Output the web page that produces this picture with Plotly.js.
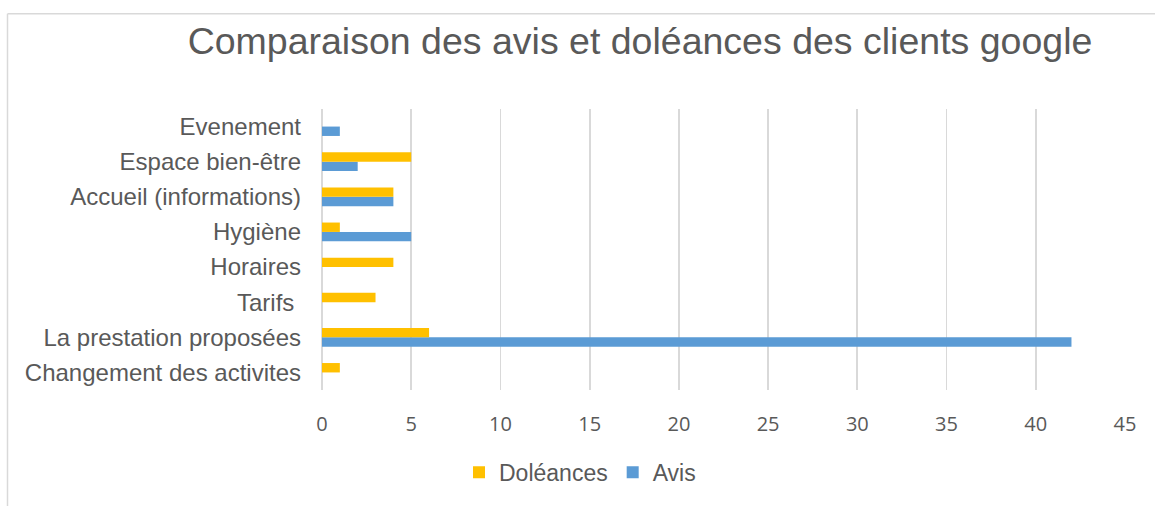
<!DOCTYPE html>
<html>
<head>
<meta charset="utf-8">
<script src="https://cdn.plot.ly/plotly-3.0.1.min.js"></script>
<style>
html,body{margin:0;padding:0;background:#fff;}
#chart{width:1155px;height:506px;}
</style>
</head>
<body>
<div id="chart"></div>
<script>
const categories = ["Changement des activites", "La prestation proposées", "Tarifs ", "Horaires", "Hygiène", "Accueil (informations)", "Espace bien-être", "Evenement"];
const doleances = [1, 6, 3, 4, 1, 4, 5, 0];
const avis = [0, 42, 0, 0, 5, 4, 2, 1];
const xTicks = [0, 5, 10, 15, 20, 25, 30, 35, 40, 45];

const W = 1155, H = 506;
const L = 322, R = 1125, T = 108.75, B = 392.75;
const pw = R - L, ph = B - T;
const px = v => (v - L) / pw;
const py = v => (B - v) / ph;

const traces = [
  {type: 'bar', orientation: 'h', name: 'Avis', y: categories, x: avis,
   marker: {color: '#5B9BD5'}, hoverinfo: 'x+y'},
  {type: 'bar', orientation: 'h', name: 'Doléances', y: categories, x: doleances,
   marker: {color: '#FFC000'}, hoverinfo: 'x+y'}
];

const layout = {
  width: W, height: H,
  margin: {l: L, r: W - R, t: T, b: H - B, pad: 0},
  paper_bgcolor: '#ffffff', plot_bgcolor: '#ffffff',
  font: {family: 'Liberation Sans, Arial, sans-serif', color: '#595959'},
  title: {text: 'Comparaison des avis et doléances des clients google',
          font: {family: 'Liberation Sans, Arial, sans-serif', size: 37.5, color: '#595959'},
          xref: 'container', yref: 'container', x: 640 / W, xanchor: 'center',
          y: 1 - 41 / H, yanchor: 'middle'},
  barmode: 'group', bargap: 0.465, bargroupgap: 0,
  xaxis: {range: [0, 45], tickvals: xTicks, ticktext: xTicks.map(String),
          showgrid: true, gridcolor: '#d9d9d9', gridwidth: 1.8,
          zeroline: true, zerolinecolor: '#d9d9d9', zerolinewidth: 1.8,
          showline: false, ticks: '', ticklabelstandoff: 20,
          tickfont: {family: 'Open Sans, sans-serif', size: 20, color: '#595959'},
          fixedrange: true},
  yaxis: {type: 'category', categoryorder: 'array', categoryarray: categories,
          showgrid: false, zeroline: false, showline: false, ticks: '',
          ticklabelstandoff: 20,
          tickfont: {family: 'Liberation Sans, Arial, sans-serif', size: 24, color: '#595959'},
          fixedrange: true},
  showlegend: true,
  legend: {orientation: 'h', traceorder: 'reversed', x: px(459), xanchor: 'left',
           y: py(476), yanchor: 'middle', bgcolor: 'rgba(0,0,0,0)',
           font: {family: 'Liberation Sans, Arial, sans-serif', size: 23, color: '#595959'}},
  shapes: [
    {type: 'line', xref: 'paper', yref: 'paper', x0: px(7.5), x1: px(1160), y0: py(12.5), y1: py(12.5),
     line: {color: '#d9d9d9', width: 1.5}},
    {type: 'line', xref: 'paper', yref: 'paper', x0: px(7.5), x1: px(7.5), y0: py(12.5), y1: py(510),
     line: {color: '#d9d9d9', width: 1.5}}
  ]
};

Plotly.newPlot('chart', traces, layout, {displayModeBar: false, staticPlot: true});
</script>
</body>
</html>
